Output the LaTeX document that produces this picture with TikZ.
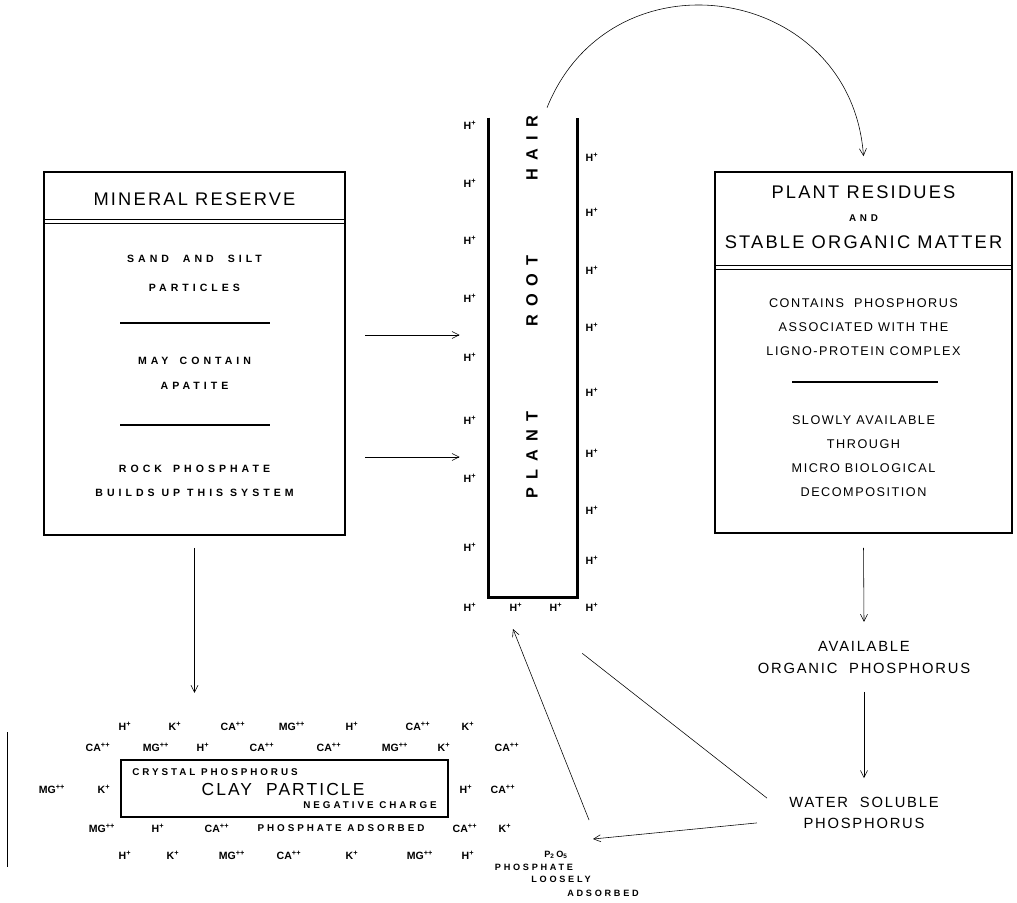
\documentclass[tikz,border=0pt]{standalone}
\usepackage{fontspec}
\setmainfont{Liberation Sans}[BoldFont={Liberation Sans Bold}]
\newfontfamily\headfont{Liberation Sans}[LetterSpace=12]
\newfontfamily\widefont{Liberation Sans}[LetterSpace=38, BoldFont={Liberation Sans Bold}]
\newfontfamily\midfont{Liberation Sans}[LetterSpace=12]
\newfontfamily\clayfont{Liberation Sans}[LetterSpace=30, BoldFont={Liberation Sans Bold}]
\newfontfamily\rootfont{Liberation Sans}[LetterSpace=50, BoldFont={Liberation Sans Bold}]
\newcommand{\chg}[2]{#1\textsuperscript{#2}}
\usetikzlibrary{arrows.meta,positioning,calc}

\begin{document}
\begin{tikzpicture}[x=0.025cm, y=-0.025cm, >={Straight Barb[length=5pt,width=5pt]}]

\tikzstyle{box} = [rectangle, draw, line width=1.1pt, inner sep=0]
\tikzstyle{head} = [inner sep=0, font=\headfont\fontsize{13}{15}\selectfont]
\tikzstyle{lbody} = [inner sep=0, font=\widefont\bfseries\fontsize{7.5}{8}\selectfont]
\tikzstyle{rbody} = [inner sep=0, font=\midfont\fontsize{9}{11}\selectfont]
\tikzstyle{flow} = [inner sep=0, align=center, font=\midfont\fontsize{10.5}{15}\selectfont]
\tikzstyle{claytxt} = [inner sep=0, font=\clayfont\bfseries\fontsize{7}{8}\selectfont]
\tikzstyle{loosetxt} = [inner sep=0, font=\clayfont\bfseries\fontsize{6.5}{7}\selectfont]
\tikzstyle{ion} = [inner sep=0, font=\bfseries\fontsize{7.5}{8}\selectfont]
\tikzstyle{rootlbl} = [inner sep=0, rotate=90, font=\rootfont\bfseries\fontsize{11.6}{13}\selectfont]
\tikzstyle{sep} = [line width=0.8pt]

\useasboundingbox (0,0) rectangle (1017,902);

% mineral reserve
\node [box, minimum width=7.525cm, minimum height=9.075cm] (mineral) at (194.5,353.5) {};
\draw ([yshift=-1.2cm]mineral.north west) -- ([yshift=-1.2cm]mineral.north east);
\draw ([yshift=-1.3cm]mineral.north west) -- ([yshift=-1.3cm]mineral.north east);
\node [head] (m_head) at (194.5,199) {MINERAL RESERVE};
\node [lbody] (m_sand) at (194.5,259) {SAND\hspace{5pt} AND\hspace{5pt} SILT};
\node [lbody] (m_part) at (194.5,288) {PARTICLES};
\draw [sep] (120,323) -- (270,323);
\node [lbody] (m_may) at (194.5,361) {MAY\hspace{3pt} CONTAIN};
\node [lbody] (m_apat) at (194.5,386) {APATITE};
\draw [sep] (120,425) -- (270,425);
\node [lbody] (m_rock) at (194.5,469) {ROCK\hspace{3pt} PHOSPHATE};
\node [lbody] (m_build) at (194.5,493) {BUILDS UP THIS SYSTEM};

% plant residues
\node [box, minimum width=7.425cm, minimum height=9.025cm] (resid) at (863.5,352.5) {};
\draw ([yshift=-2.35cm]resid.north west) -- ([yshift=-2.35cm]resid.north east);
\draw ([yshift=-2.45cm]resid.north west) -- ([yshift=-2.45cm]resid.north east);
\node [head] (r_head1) at (863.5,192) {PLANT RESIDUES};
\node [lbody, font=\widefont\bfseries\fontsize{7}{8}\selectfont] (r_and) at (863.5,218) {AND};
\node [head] (r_head2) at (863.5,242) {STABLE ORGANIC MATTER};
\node [rbody] (r_cont) at (863.5,303) {CONTAINS~~PHOSPHORUS};
\node [rbody] (r_assoc) at (863.5,327) {ASSOCIATED WITH THE};
\node [rbody] (r_ligno) at (863.5,351) {LIGNO-PROTEIN COMPLEX};
\draw [sep] (792,382) -- (938,382);
\node [rbody] (r_slow) at (863.5,420) {SLOWLY AVAILABLE};
\node [rbody] (r_thru) at (863.5,444) {THROUGH};
\node [rbody] (r_micro) at (863.5,468) {MICRO BIOLOGICAL};
\node [rbody] (r_decomp) at (863.5,492) {DECOMPOSITION};

% plant root hair
\node [minimum width=2.2cm, minimum height=11.975cm, inner sep=0] (root) at (533,357.5) {};
\draw [line width=1.8pt] (root.north west) -- (root.south west) -- (root.south east) -- (root.north east);
\node [rootlbl] (rt_plant) at (532,455) {PLANT};
\node [rootlbl] (rt_root) at (532,291) {ROOT};
\node [rootlbl] (rt_hair) at (532,148) {HAIR};

\node [ion] (hl1) at (470,125) {\chg{H}{+}};
\node [ion] (hl2) at (470,183) {\chg{H}{+}};
\node [ion] (hl3) at (470,240) {\chg{H}{+}};
\node [ion] (hl4) at (470,298) {\chg{H}{+}};
\node [ion] (hl5) at (470,357) {\chg{H}{+}};
\node [ion] (hl6) at (470,420) {\chg{H}{+}};
\node [ion] (hl7) at (470,478) {\chg{H}{+}};
\node [ion] (hl8) at (470,547) {\chg{H}{+}};
\node [ion] (hl9) at (470,607) {\chg{H}{+}};
\node [ion] (hr1) at (592,157) {\chg{H}{+}};
\node [ion] (hr2) at (592,212) {\chg{H}{+}};
\node [ion] (hr3) at (592,270) {\chg{H}{+}};
\node [ion] (hr4) at (592,327) {\chg{H}{+}};
\node [ion] (hr5) at (592,392) {\chg{H}{+}};
\node [ion] (hr6) at (592,453) {\chg{H}{+}};
\node [ion] (hr7) at (592,510) {\chg{H}{+}};
\node [ion] (hr8) at (592,560) {\chg{H}{+}};
\node [ion] (hr9) at (592,607) {\chg{H}{+}};
\node [ion] (hb1) at (516,607) {\chg{H}{+}};
\node [ion] (hb2) at (556,607) {\chg{H}{+}};

% clay particle
\node [box, line width=2pt, minimum width=8.175cm, minimum height=1.425cm] (clay) at (284.5,788.5) {};
\node [claytxt, anchor=west] (c_cryst) at (132,772) {CRYSTAL PHOSPHORUS};
\node [head, font=\headfont\fontsize{12.4}{14}\selectfont] (c_name) at (283,789) {CLAY\hspace{5pt} PARTICLE};
\node [claytxt, anchor=east] (c_neg) at (437,805) {NEGATIVE CHARGE};
\node [claytxt] (c_ads) at (341,828) {PHOSPHATE ADSORBED};

\node [ion] (ra1) at (125,726) {\chg{H}{+}};
\node [ion] (ra2) at (175,726) {\chg{K}{+}};
\node [ion] (ra3) at (233,726) {\chg{CA}{++}};
\node [ion] (ra4) at (292,726) {\chg{MG}{++}};
\node [ion] (ra5) at (352,726) {\chg{H}{+}};
\node [ion] (ra6) at (418,726) {\chg{CA}{++}};
\node [ion] (ra7) at (468,726) {\chg{K}{+}};

\node [ion] (rb1) at (98,747) {\chg{CA}{++}};
\node [ion] (rb2) at (156,747) {\chg{MG}{++}};
\node [ion] (rb3) at (203,747) {\chg{H}{+}};
\node [ion] (rb4) at (262,747) {\chg{CA}{++}};
\node [ion] (rb5) at (329,747) {\chg{CA}{++}};
\node [ion] (rb6) at (395,747) {\chg{MG}{++}};
\node [ion] (rb7) at (444,747) {\chg{K}{+}};
\node [ion] (rb8) at (507,747) {\chg{CA}{++}};

\node [ion] (rc1) at (52,789) {\chg{MG}{++}};
\node [ion] (rc2) at (104,789) {\chg{K}{+}};
\node [ion] (rc3) at (466,789) {\chg{H}{+}};
\node [ion] (rc4) at (503,789) {\chg{CA}{++}};

\node [ion] (rd1) at (102,828) {\chg{MG}{++}};
\node [ion] (rd2) at (158,828) {\chg{H}{+}};
\node [ion] (rd3) at (217,828) {\chg{CA}{++}};
\node [ion] (rd4) at (465,828) {\chg{CA}{++}};
\node [ion] (rd5) at (505,828) {\chg{K}{+}};

\node [ion] (re1) at (125,855) {\chg{H}{+}};
\node [ion] (re2) at (173,855) {\chg{K}{+}};
\node [ion] (re3) at (232,855) {\chg{MG}{++}};
\node [ion] (re4) at (289,855) {\chg{CA}{++}};
\node [ion] (re5) at (352,855) {\chg{K}{+}};
\node [ion] (re6) at (420,855) {\chg{MG}{++}};
\node [ion] (re7) at (468,855) {\chg{H}{+}};

\draw [line width=0.5pt] (7,732) -- (7,867);

% loosely adsorbed phosphate
\node [loosetxt] (p2o5) at (556,855) {P\textsubscript{2}\,O\textsubscript{5}};
\node [loosetxt] (l_phos) at (534,867) {PHOSPHATE};
\node [loosetxt] (l_loose) at (561,879) {LOOSELY};
\node [loosetxt] (l_ads) at (603,893) {ADSORBED};

% organic and soluble phosphorus
\node [flow] (avail) at (864,657.5) {AVAILABLE\\ORGANIC~~PHOSPHORUS};
\node [flow] (water) at (864,812.5) {WATER~~SOLUBLE\\PHOSPHORUS};

% connectors
\coordinate (feed1) at (365,335);
\coordinate (feed2) at (365,457);
\draw [->, shorten >=0.725cm] (feed1) -- (feed1 -| root.west);
\draw [->, shorten >=0.725cm] (feed2) -- (feed2 -| root.west);

\draw [->] ([yshift=-0.3cm]mineral.south) -- ([yshift=-3.925cm]mineral.south);

\draw [->] ([xshift=0.35cm,yshift=0.25cm]root.north) .. controls (612,-53) and (851,-16) .. ([yshift=0.375cm]resid.north);

\path [->] ([yshift=-0.35cm]resid.south) edge ([yshift=0.89cm]avail.center);
\path [->] ([yshift=-0.86cm]avail.center) edge ([yshift=0.86cm]water.center);

\draw ([xshift=-2.425cm,yshift=0.36cm]water.center) -- ([xshift=0.125cm,yshift=-1.4cm]root.south east);
\draw [->] ([xshift=-2.675cm,yshift=-0.26cm]water.center) -- ([xshift=0.925cm,yshift=0.4cm]p2o5.center);
\draw [->] ([xshift=0.825cm,yshift=0.875cm]p2o5.center) -- ([xshift=-0.075cm,yshift=-0.55cm]hb1.center);

\end{tikzpicture}
\end{document}
